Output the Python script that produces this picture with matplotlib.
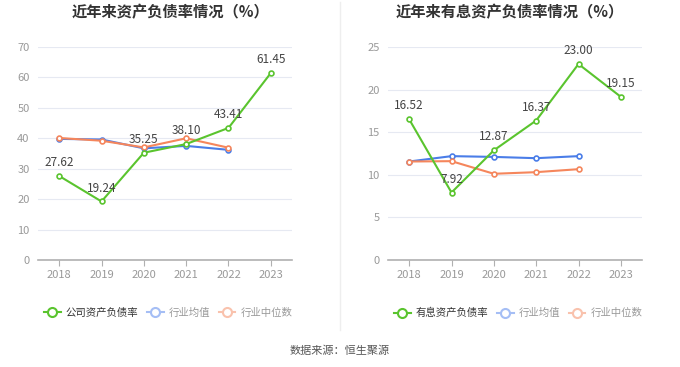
import matplotlib
matplotlib.use("Agg")
import matplotlib.pyplot as plt
from matplotlib.lines import Line2D

plt.rcParams['font.family'] = ['Noto Sans CJK SC', 'DejaVu Sans']

# 数据
years = ['2018', '2019', '2020', '2021', '2022', '2023']

debt_ratio = [27.62, 19.24, 35.25, 38.10, 43.41, 61.45]
debt_avg = [39.8, 39.6, 36.7, 37.5, 36.2]
debt_median = [40.1, 39.2, 37.0, 40.0, 36.9]

int_ratio = [16.52, 7.92, 12.87, 16.37, 23.00, 19.15]
int_avg = [11.56, 12.19, 12.1, 11.95, 12.19]
int_median = [11.56, 11.6, 10.12, 10.31, 10.66]

titles = ['近年来资产负债率情况（%）', '近年来有息资产负债率情况（%）']
main_names = ['公司资产负债率', '有息资产负债率']
ylims = [(0, 70, 10), (0, 25, 5)]

GREEN = '#5ac42e'
BLUE = '#4a7de8'
ORANGE = '#f5865c'
W, H = 680, 367

fig = plt.figure(figsize=(6.8, 3.67), dpi=100)


def make_ax(x0, x1):
    # 像素坐标 -> figure 坐标
    return fig.add_axes([x0 / W, 1 - 260 / H, (x1 - x0) / W, (260 - 47) / H])


def draw(ax, main, avg, med, lim):
    x = list(range(len(years)))
    ax.plot(x[:len(avg)], avg, color=BLUE, lw=1.5, marker='o', ms=3.5,
            mfc='white', mec=BLUE, mew=1.2, zorder=3)
    ax.plot(x[:len(med)], med, color=ORANGE, lw=1.5, marker='o', ms=3.5,
            mfc='white', mec=ORANGE, mew=1.2, zorder=4)
    ax.plot(x, main, color=GREEN, lw=1.5, marker='o', ms=3.5,
            mfc='white', mec=GREEN, mew=1.2, zorder=5)
    for i, v in enumerate(main):
        ax.annotate(f'{v:.2f}', (i, v), xytext=(0, 5), textcoords='offset points',
                    ha='center', va='bottom', fontsize=8.5, color='#444444', zorder=6)
    lo, hi, step = lim
    ax.set_ylim(lo, hi)
    ax.set_yticks(range(lo, hi + 1, step))
    ax.set_xlim(-0.5, len(years) - 0.5)
    ax.set_xticks(x)
    ax.set_xticklabels(years)
    ax.grid(axis='y', color='#e6e9f2', lw=0.8)
    ax.set_axisbelow(True)
    for s in ['top', 'right', 'left']:
        ax.spines[s].set_visible(False)
    ax.spines['bottom'].set_color('#b0b0b0')
    ax.spines['bottom'].set_linewidth(1.2)
    ax.tick_params(axis='both', length=0, labelsize=8, colors='#999999', pad=6)
    ax.tick_params(axis='x', length=4, color='#b0b0b0', pad=3)


ax1 = make_ax(38, 292)
draw(ax1, debt_ratio, debt_avg, debt_median, ylims[0])
ax2 = make_ax(388, 642)
draw(ax2, int_ratio, int_avg, int_median, ylims[1])

fig.text(170 / W, 1 - 12 / H, titles[0], ha='center', va='center',
         fontsize=11, fontweight='bold', color='#333333')
fig.text(510 / W, 1 - 12 / H, titles[1], ha='center', va='center',
         fontsize=11, fontweight='bold', color='#333333')

# 分隔线
fig.add_artist(Line2D([340 / W, 340 / W], [1 - 2 / H, 1 - 330 / H],
                      color='#eeeeee', lw=1))

# 图例
for cx, name in [(44, main_names[0]), (394, main_names[1])]:
    handles = [
        Line2D([], [], color=GREEN, lw=1.5, marker='o', ms=6.5, mfc='white', mec=GREEN, mew=1.5),
        Line2D([], [], color='#a5bef5', lw=1.5, marker='o', ms=6.5, mfc='white', mec='#a5bef5', mew=1.5),
        Line2D([], [], color='#f9c2ad', lw=1.5, marker='o', ms=6.5, mfc='white', mec='#f9c2ad', mew=1.5),
    ]
    leg = fig.legend(handles, [name, '行业均值', '行业中位数'], loc='center left',
                     bbox_to_anchor=(cx / W, 1 - 313 / H), ncol=3, frameon=False,
                     fontsize=7.5, handlelength=1.6, handletextpad=0.5,
                     columnspacing=0.8, borderaxespad=0, borderpad=0)
    texts = leg.get_texts()
    texts[0].set_color('#333333')
    texts[1].set_color('#999999')
    texts[2].set_color('#999999')

fig.text(340 / W, 1 - 351 / H, '数据来源：恒生聚源', ha='center', va='center',
         fontsize=8, color='#555555')

fig.savefig('out.png', dpi=100)
